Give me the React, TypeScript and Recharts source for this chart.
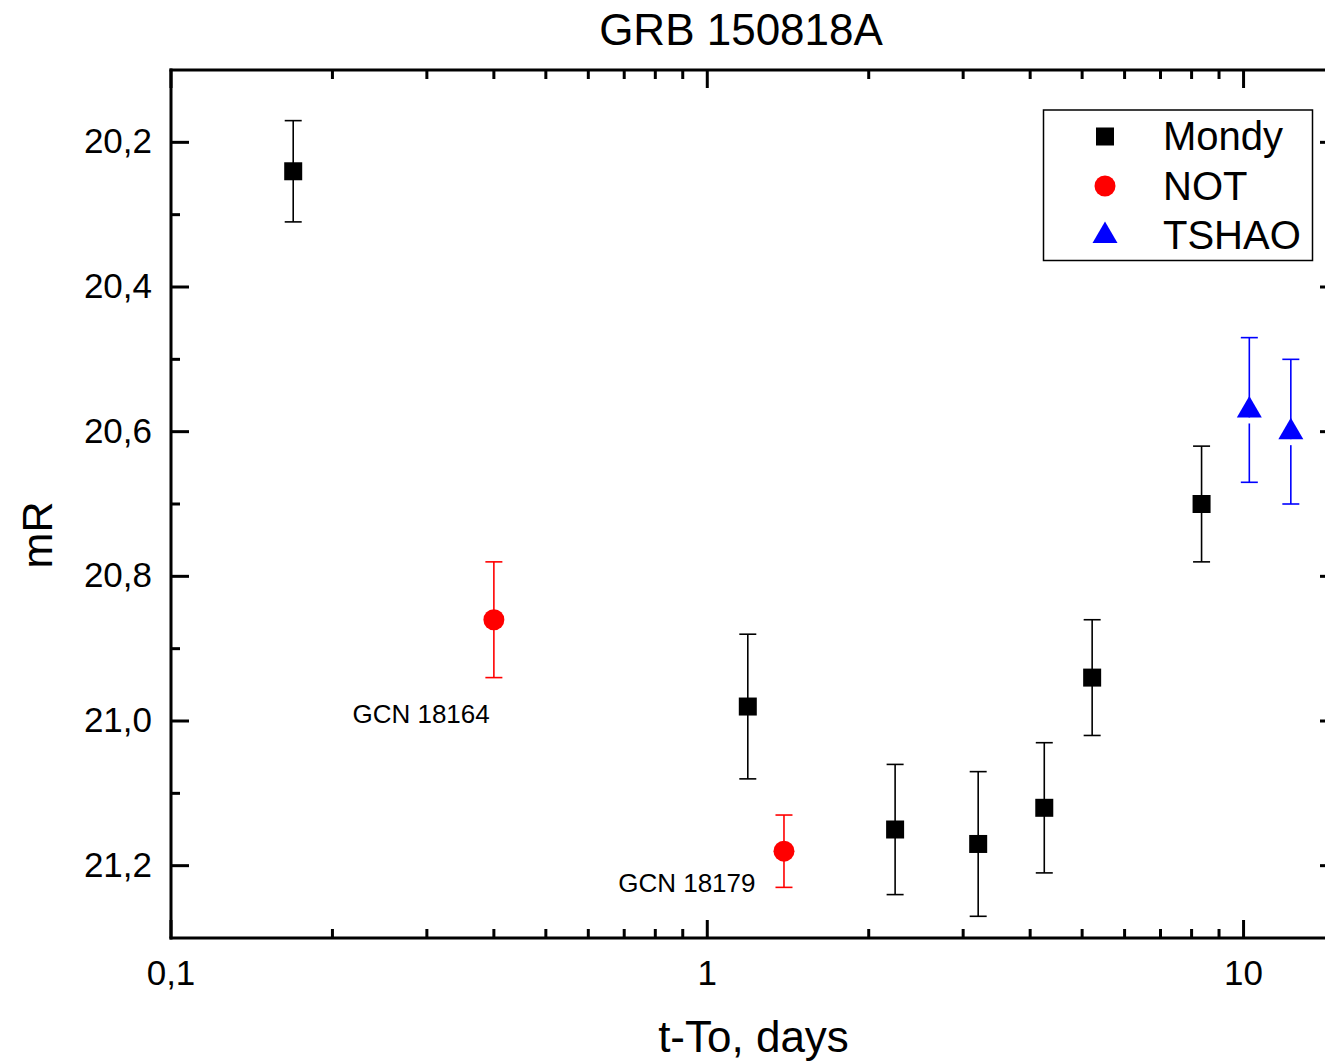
import React from "react";
import { ScatterChart, Scatter, XAxis, YAxis, ErrorBar } from "recharts";

// GRB 150818A optical afterglow, R magnitudes vs time since trigger
const mondyT = [0.169, 1.19, 2.24, 3.2, 4.25, 5.22, 8.35];
const mondyMag = [20.24, 20.98, 21.15, 21.17, 21.12, 20.94, 20.7];
const mondyErr = [0.07, 0.1, 0.09, 0.1, 0.09, 0.08, 0.08];

const notT = [0.4, 1.39];
const notMag = [20.86, 21.18];
const notErr = [0.08, 0.05];

const tshaoT = [10.25, 12.25];
const tshaoMag = [20.57, 20.6];
const tshaoErr = [0.1, 0.1];

const noteLabels = ["GCN 18164", "GCN 18179"];
const noteT = [0.393, 1.23];
const noteMag = [21.003, 21.236];

const xMajorTicks = [0.1, 1, 10];
const xMinorTicks = [0.2, 0.3, 0.4, 0.5, 0.6, 0.7, 0.8, 0.9, 2, 3, 4, 5, 6, 7, 8, 9];
const yMajorTicks = [20.2, 20.4, 20.6, 20.8, 21.0, 21.2];
const yMinorTicks = [20.3, 20.5, 20.7, 20.9, 21.1];

const xDomain = [0.1, 15];
const yDomain = [20.1, 21.3];

const FONT = '"Liberation Sans", Arial, sans-serif';

const toPoints = (t: number[], m: number[], e: number[]) =>
  t.map((x, i) => ({ x, y: m[i], err: e[i] }));

const mondy = toPoints(mondyT, mondyMag, mondyErr);
const notData = toPoints(notT, notMag, notErr);
const tshao = toPoints(tshaoT, tshaoMag, tshaoErr);
const notes = noteLabels.map((text, i) => ({ x: noteT[i], y: noteMag[i], text }));

const xTicks = [...xMajorTicks, ...xMinorTicks].sort((a, b) => a - b);
const yTicks = [...yMajorTicks, ...yMinorTicks].sort((a, b) => a - b);

const isMajor = (list: number[], v: number) => list.some((m) => Math.abs(m - v) < 1e-9);
const fmtX = (v: number) => (v < 1 ? v.toFixed(1).replace(".", ",") : String(v));
const fmtY = (v: number) => v.toFixed(1).replace(".", ",");

const axisStyle = { stroke: "#000", strokeWidth: 3, strokeLinecap: "square" as const };

function BottomTick({ x, y, payload }: any) {
  const major = isMajor(xMajorTicks, payload.value);
  return (
    <g>
      <line x1={x} y1={y} x2={x} y2={y - (major ? 18 : 9)} stroke="#000" strokeWidth={3} />
      {major && (
        <text x={x} y={y + 47} textAnchor="middle" fontSize={35} fontFamily={FONT} fill="#000">
          {fmtX(payload.value)}
        </text>
      )}
    </g>
  );
}

function TopTick({ x, y, payload }: any) {
  const major = isMajor(xMajorTicks, payload.value);
  return <line x1={x} y1={y} x2={x} y2={y + (major ? 18 : 9)} stroke="#000" strokeWidth={3} />;
}

function LeftTick({ x, y, payload }: any) {
  const major = isMajor(yMajorTicks, payload.value);
  return (
    <g>
      <line x1={x} y1={y} x2={x + (major ? 18 : 9)} y2={y} stroke="#000" strokeWidth={3} />
      {major && (
        <text x={x - 19} y={y + 11} textAnchor="end" fontSize={35} fontFamily={FONT} fill="#000">
          {fmtY(payload.value)}
        </text>
      )}
    </g>
  );
}

function RightTick({ x, y, payload }: any) {
  const major = isMajor(yMajorTicks, payload.value);
  return <line x1={x} y1={y} x2={x - (major ? 18 : 9)} y2={y} stroke="#000" strokeWidth={3} />;
}

function SquareDot({ cx, cy }: any) {
  return <rect x={cx - 9} y={cy - 9} width={18} height={18} fill="#000" />;
}

function CircleDot({ cx, cy }: any) {
  return <circle cx={cx} cy={cy} r={10.5} fill="#ff0000" />;
}

function TriangleDot({ cx, cy }: any) {
  return (
    <g>
      <rect x={cx - 2} y={cy + 7.5} width={4} height={6} fill="#fff" />
      <polygon
        points={`${cx},${cy - 14} ${cx + 12.5},${cy + 7.5} ${cx - 12.5},${cy + 7.5}`}
        fill="#0000ff"
      />
    </g>
  );
}

function NoteText({ cx, cy, payload }: any) {
  return (
    <text x={cx} y={cy} textAnchor="end" fontSize={26} fontFamily={FONT} fill="#000">
      {payload.text}
    </text>
  );
}

const legendItems = [
  { name: "Mondy", Shape: SquareDot },
  { name: "NOT", Shape: CircleDot },
  { name: "TSHAO", Shape: TriangleDot },
];

export default function App() {
  return (
    <div
      style={{
        position: "absolute",
        left: 0,
        top: 0,
        width: 1325,
        height: 1064,
        overflow: "hidden",
        background: "#fff",
        fontFamily: FONT,
      }}
    >
      <ScatterChart width={1340} height={1064} margin={{ top: 69, right: 1, bottom: 0, left: 0 }}>
        <XAxis
          xAxisId="b"
          type="number"
          dataKey="x"
          scale="log"
          domain={xDomain}
          allowDataOverflow
          ticks={xTicks}
          interval={0}
          tick={<BottomTick />}
          tickLine={false}
          tickSize={0}
          tickMargin={0}
          height={126}
          axisLine={axisStyle}
          label={{
            value: "t-To, days",
            content: (p: any) => (
              <text
                x={p.viewBox.x + p.viewBox.width / 2 - 1}
                y={p.viewBox.y + 114}
                textAnchor="middle"
                fontSize={44}
                fontFamily={FONT}
                fill="#000"
              >
                t-To, days
              </text>
            ),
          }}
        />
        <XAxis
          xAxisId="t"
          orientation="top"
          type="number"
          dataKey="x"
          scale="log"
          domain={xDomain}
          allowDataOverflow
          ticks={xTicks}
          interval={0}
          tick={<TopTick />}
          tickLine={false}
          tickSize={0}
          tickMargin={0}
          height={1}
          axisLine={axisStyle}
        />
        <YAxis
          yAxisId="l"
          type="number"
          dataKey="y"
          domain={yDomain}
          reversed
          allowDataOverflow
          ticks={yTicks}
          interval={0}
          tick={<LeftTick />}
          tickLine={false}
          tickSize={0}
          tickMargin={0}
          width={171}
          axisLine={axisStyle}
          label={{
            value: "mR",
            content: (p: any) => (
              <text
                x={p.viewBox.x + 52}
                y={535}
                transform={`rotate(-90, ${p.viewBox.x + 52}, 535)`}
                textAnchor="middle"
                fontSize={43}
                fontFamily={FONT}
                fill="#000"
              >
                mR
              </text>
            ),
          }}
        />
        <YAxis
          yAxisId="r"
          orientation="right"
          type="number"
          dataKey="y"
          domain={yDomain}
          reversed
          allowDataOverflow
          ticks={yTicks}
          interval={0}
          tick={<RightTick />}
          tickLine={false}
          tickSize={0}
          tickMargin={0}
          width={1}
          axisLine={axisStyle}
        />
        <Scatter name="Mondy" data={mondy} xAxisId="b" yAxisId="l" shape={<SquareDot />} isAnimationActive={false}>
          <ErrorBar dataKey="err" direction="y" width={8.5} stroke="#000" strokeWidth={1.6} isAnimationActive={false} />
        </Scatter>
        <Scatter name="NOT" data={notData} xAxisId="b" yAxisId="l" shape={<CircleDot />} isAnimationActive={false}>
          <ErrorBar dataKey="err" direction="y" width={8.5} stroke="#ff0000" strokeWidth={1.6} isAnimationActive={false} />
        </Scatter>
        <Scatter name="TSHAO" data={tshao} xAxisId="b" yAxisId="l" shape={<TriangleDot />} isAnimationActive={false}>
          <ErrorBar dataKey="err" direction="y" width={8.5} stroke="#0000ff" strokeWidth={1.6} isAnimationActive={false} />
        </Scatter>
        <Scatter name="notes" data={notes} xAxisId="t" yAxisId="r" shape={<NoteText />} isAnimationActive={false} />
      </ScatterChart>
      <svg width={1325} height={1064} style={{ position: "absolute", left: 0, top: 0, pointerEvents: "none" }}>
        <text x={741} y={45} textAnchor="middle" fontSize={44} fontFamily={FONT} fill="#000">
          GRB 150818A
        </text>
        <rect x={1043.5} y={110} width={269} height={150.5} fill="#fff" stroke="#000" strokeWidth={1.5} />
        {legendItems.map(({ name, Shape }, i) => (
          <g key={name}>
            <Shape cx={1105} cy={136.5 + i * 49.5} />
            <text x={1163} y={150 + i * 49.5} fontSize={40} fontFamily={FONT} fill="#000">
              {name}
            </text>
          </g>
        ))}
      </svg>
    </div>
  );
}
